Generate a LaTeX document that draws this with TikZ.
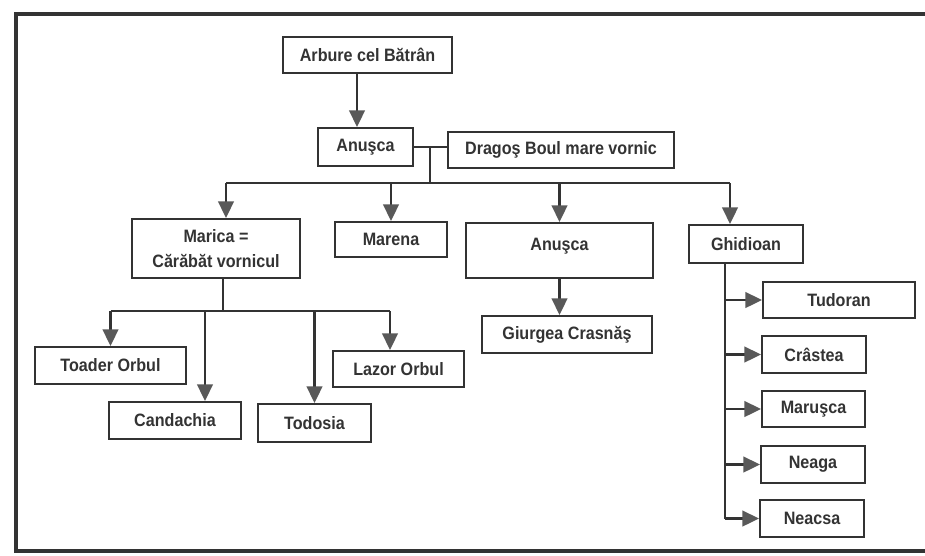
\documentclass[tikz,border=0pt]{standalone}
\usepackage{fontspec}
\newfontfamily\namefont{Liberation Sans}[FakeStretch=0.9]
\usetikzlibrary{arrows.meta}
\tikzset{
  person/.style={draw=black!80, fill=white, line width=1.2pt, inner sep=2pt,
    align=center, text=black!80, font=\namefont\bfseries\fontsize{10.2}{14}\selectfont},
  wire/.style={draw=black!80, line width=1.2pt},
  tip/.style={wire, -{Triangle[length=9.5pt, width=9pt, fill=black!65, color=black!65]}},
  frame/.style={draw=black!80, line width=1.8pt}
}

\begin{document}
\begin{tikzpicture}[x=0.02cm, y=-0.02cm]
  \useasboundingbox (0,0) rectangle (925,555);
  % outer frame (right side cut off)
  \draw[frame] (930,14) -- (16,14) -- (16,551) -- (930,551);

  % first generations
  \node[person, minimum width=3.38cm, minimum height=0.72cm] (arbure) at (367.5,55) {Arbure cel Bătrân};
  \node[person, minimum width=1.90cm, minimum height=0.76cm] (anusca) at (365.5,147) {Anuşca};
  \node[person, minimum width=4.52cm, minimum height=0.72cm] (dragos) at (561,150) {Dragoş Boul mare vornic};

  % children
  \node[person, minimum width=3.36cm, minimum height=1.18cm] (marica) at (216,248.5) {Marica =\\Cărăbăt vornicul};
  \node[person, minimum width=2.24cm, minimum height=0.70cm] (marena) at (391,239.5) {Marena};
  \node[person, minimum width=3.74cm, minimum height=1.10cm, text depth=0.24cm] (anuscb) at (559.5,250.5) {Anuşca};
  \node[person, minimum width=2.28cm, minimum height=0.76cm] (ghidioan) at (746,244) {Ghidioan};

  % grandchildren
  \node[person, minimum width=3.40cm, minimum height=0.74cm] (giurgea) at (567,334.5) {Giurgea Crasnăş};
  \node[person, minimum width=3.02cm, minimum height=0.74cm] (toader) at (110.5,365.5) {Toader Orbul};
  \node[person, minimum width=2.64cm, minimum height=0.74cm] (candachia) at (175,420.5) {Candachia};
  \node[person, minimum width=2.26cm, minimum height=0.76cm] (todosia) at (314.5,423) {Todosia};
  \node[person, minimum width=2.62cm, minimum height=0.72cm] (lazor) at (398.5,369) {Lazor Orbul};
  \node[person, minimum width=3.04cm, minimum height=0.72cm] (tudoran) at (839,300) {Tudoran};
  \node[person, minimum width=2.08cm, minimum height=0.74cm] (crastea) at (814,354.5) {Crâstea};
  \node[person, minimum width=2.06cm, minimum height=0.72cm] (marusca) at (813.5,409) {Maruşca};
  \node[person, minimum width=2.08cm, minimum height=0.74cm] (neaga) at (813,464.5) {Neaga};
  \node[person, minimum width=2.08cm, minimum height=0.74cm] (neacsa) at (812,518.5) {Neacsa};

  % Arbure -> Anusca
  \draw[tip] ([xshift=-0.17cm]anusca.north |- arbure.south) -- ([xshift=-0.17cm]anusca.north);

  % marriage line and hub
  \coordinate (hub) at (430,183);
  \draw[wire] (anusca.east) -- (anusca.east -| dragos.west);
  \draw[wire] (hub |- anusca.east) -- (hub);
  \draw[wire] ([xshift=0.2cm]marica.north |- hub) -- ([xshift=-0.32cm]ghidioan.north |- hub);
  \draw[tip] ([xshift=0.2cm]marica.north |- hub) -- ([xshift=0.2cm]marica.north);
  \draw[tip] (marena.north |- hub) -- (marena.north);
  \draw[tip] (anuscb.north |- hub) -- (anuscb.north);
  \draw[tip] ([xshift=-0.32cm]ghidioan.north |- hub) -- ([xshift=-0.32cm]ghidioan.north);

  % Anusca -> Giurgea
  \draw[tip] (anuscb.south) -- (anuscb.south |- giurgea.north);

  % Marica's children
  \coordinate (bus) at (223,311);
  \draw[wire] (bus |- marica.south) -- (bus);
  \draw[wire] (toader.north |- bus) -- ([xshift=-0.17cm]lazor.north |- bus);
  \draw[tip] (toader.north |- bus) -- (toader.north);
  \draw[tip] ([xshift=0.6cm]candachia.north |- bus) -- ([xshift=0.6cm]candachia.north);
  \draw[tip] (todosia.north |- bus) -- (todosia.north);
  \draw[tip] ([xshift=-0.17cm]lazor.north |- bus) -- ([xshift=-0.17cm]lazor.north);

  % Ghidioan's children
  \coordinate (trunk) at ([xshift=-0.42cm]ghidioan.south);
  \draw[wire] (trunk) -- (trunk |- neacsa.west);
  \foreach \k in {tudoran,crastea,marusca,neaga,neacsa}
    \draw[tip] (trunk |- \k.west) -- (\k.west);
\end{tikzpicture}
\end{document}
